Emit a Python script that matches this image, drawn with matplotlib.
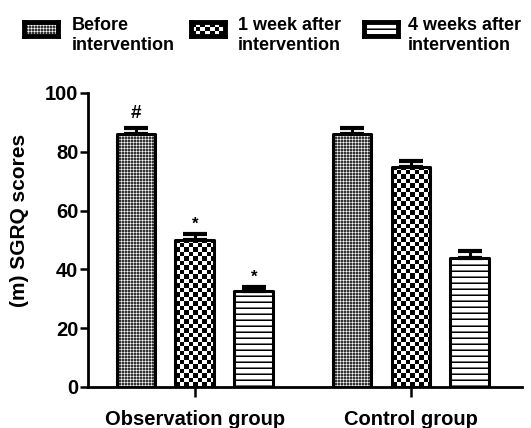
import numpy as np
import matplotlib
matplotlib.use('Agg')
from matplotlib import pyplot as plt

groups = ['Observation group', 'Control group']
series = ['Before\nintervention', '1 week after\nintervention', '4 weeks after\nintervention']
# SGRQ scores, one row per group, one column per time point
scores = [[86, 50, 32.5],
          [86, 75, 44]]
sem = [[2, 2, 1.5],
       [2, 2, 2.2]]
marks = [['#', '*', '*'],
         ['', '', '']]

plt.rcParams['font.family'] = ['Liberation Sans', 'DejaVu Sans']
plt.rcParams['font.weight'] = 'bold'


def fine_dots(h, w):
    """small white dots on black, looks grey from afar"""
    i, j = np.mgrid[0:h, 0:w]
    k = np.array([[0.2, 0.65, 0.2], [0.65, 1.0, 0.65], [0.2, 0.65, 0.2]])
    return k[i % 3, j % 3]


def checker(h, w):
    i, j = np.mgrid[0:h, 0:w]
    return ((i // 4.5 + j // 4.5) % 2).astype(float)


def stripes(h, w):
    i, j = np.mgrid[0:h, 0:w]
    row = np.array([0.0, 0.45, 1.0, 1.0, 1.0, 1.0])
    return row[i % 6]


patterns = [fine_dots, checker, stripes]

fig = plt.figure(figsize=(5.31, 4.28), dpi=100)
W, H = 531.0, 428.0
ax = fig.add_axes([88 / W, 1 - 387 / H, 434 / W, 294 / H])
ax.set_xlim(-0.495, 1.514)
ax.set_ylim(0, 100)

offsets = [-0.273, 0.0, 0.273]
bw = 0.18
txt_off = {'#': 3.6, '*': 1.7}
txt_size = {'#': 13.5, '*': 12}

for g in range(len(groups)):
    for s in range(len(series)):
        x = g + offsets[s]
        v = scores[g][s]
        e = sem[g][s]
        bar = ax.bar(x, v, bw, facecolor='none', edgecolor='black', linewidth=2.2,
                     joinstyle='round', zorder=3)[0]
        # fill the bar with its pattern at screen resolution
        p0 = ax.transData.transform((x - bw / 2, 0))
        p1 = ax.transData.transform((x + bw / 2, v))
        wpx = max(int(round(p1[0] - p0[0])), 1)
        hpx = max(int(round(p1[1] - p0[1])), 1)
        im = ax.imshow(patterns[s](hpx, wpx), extent=(x - bw / 2, x + bw / 2, 0, v),
                       origin='lower', aspect='auto', interpolation='nearest',
                       cmap='gray', vmin=0, vmax=1, zorder=2)
        im.set_clip_path(bar)
        ax.errorbar(x, v, yerr=[[0], [e]], fmt='none', ecolor='black', elinewidth=2.2,
                    capsize=8.6, capthick=3, zorder=4)
        m = marks[g][s]
        if m:
            ax.text(x, v + e + txt_off[m], m, ha='center', va='baseline',
                    fontsize=txt_size[m], fontweight='bold')

ax.set_xlim(-0.495, 1.514)
ax.set_ylim(0, 100)

for side in ['top', 'right']:
    ax.spines[side].set_visible(False)
for side in ['left', 'bottom']:
    ax.spines[side].set_linewidth(2.0)

ax.set_yticks([0, 20, 40, 60, 80, 100])
ax.set_xticks([0, 1])
ax.set_xticklabels(groups)
ax.tick_params(axis='y', length=5.5, width=1.8, pad=1.5, labelsize=14.5)
ax.tick_params(axis='x', length=7, width=1.8, pad=9.5, labelsize=14.5)
ax.set_ylabel('(m) SGRQ scores', fontsize=15, fontweight='bold')
ax.yaxis.set_label_coords(-0.136, 0.565)

# legend drawn by hand: swatch boxes and two-line labels
sw_x = [24, 190.5, 363.5]
tx_x = [72, 238, 408]
for s in range(len(series)):
    sax = fig.add_axes([sw_x[s] / W, 1 - 36 / H, 34 / W, 14 / H])
    sax.imshow(patterns[s](14, 34), extent=(0, 1, 0, 1), origin='lower', aspect='auto',
               interpolation='nearest', cmap='gray', vmin=0, vmax=1)
    sax.set_xlim(0, 1)
    sax.set_ylim(0, 1)
    sax.set_xticks([])
    sax.set_yticks([])
    for sp in sax.spines.values():
        sp.set_linewidth(3.5)
        sp.set_joinstyle('round')
    fig.text(tx_x[s] / W, 1 - 50 / H, series[s], ha='left', va='baseline', fontsize=13,
             fontweight='bold')

plt.savefig('out.png', dpi=100)
